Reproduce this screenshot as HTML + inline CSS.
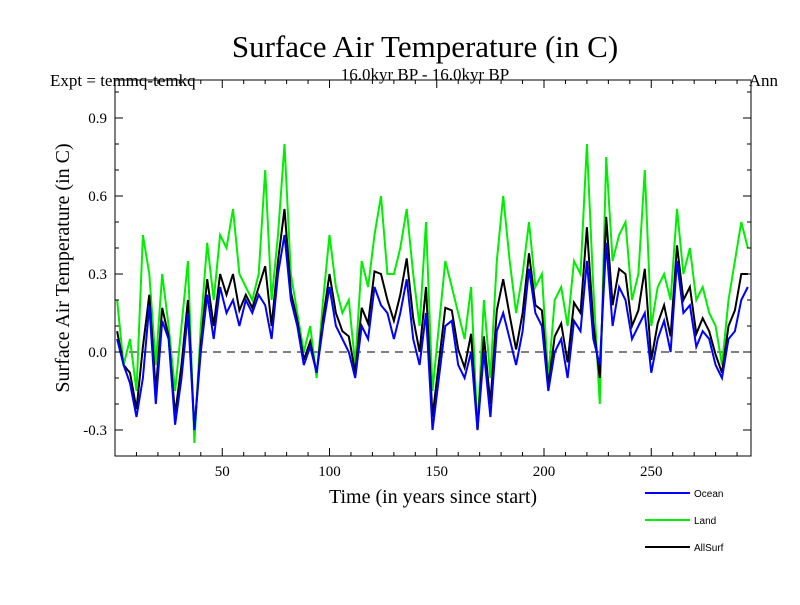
<!DOCTYPE html>
<html><head><meta charset="utf-8"><style>
body{margin:0;background:#fff;}
svg text{font-family:"Liberation Serif",serif;}
</style></head><body>
<svg id="c" width="800" height="600" xmlns="http://www.w3.org/2000/svg">
<text x="425" y="57" font-size="31" text-anchor="middle">Surface Air Temperature (in C)</text>
<text x="425" y="80" font-size="17" text-anchor="middle">16.0kyr BP - 16.0kyr BP</text>
<text x="50" y="86" font-size="17">Expt = temmq-temkq</text>
<text x="778" y="86" font-size="17" text-anchor="end">Ann</text>
<text transform="translate(69,268) rotate(-90)" font-size="20" text-anchor="middle">Surface Air Temperature (in C)</text>
<text x="433" y="503" font-size="20" text-anchor="middle">Time (in years since start)</text>
<g id="plot"></g>
<g id="legend" font-size="10"></g>
</svg>
<script>
const years=[];for(let y=1;y<=295;y+=3)years.push(y);
const ocean=[0.05,-0.05,-0.12,-0.25,-0.1,0.18,-0.2,0.12,0.05,-0.28,-0.1,0.15,-0.3,0.0,0.22,0.05,0.25,0.15,0.2,0.1,0.2,0.15,0.22,0.18,0.05,0.3,0.45,0.2,0.1,-0.05,0.02,-0.08,0.1,0.25,0.1,0.05,0.0,-0.1,0.1,0.05,0.25,0.18,0.15,0.05,0.15,0.28,0.05,-0.05,0.15,-0.3,-0.1,0.1,0.12,-0.05,-0.1,0.0,-0.3,0.0,-0.25,0.08,0.15,0.05,-0.05,0.08,0.32,0.15,0.1,-0.15,0.0,0.05,-0.1,0.12,0.08,0.35,0.05,-0.05,0.42,0.1,0.25,0.2,0.05,0.1,0.15,-0.08,0.05,0.12,0.0,0.35,0.15,0.18,0.02,0.08,0.05,-0.05,-0.1,0.05,0.08,0.2,0.25];
const land=[0.2,-0.05,0.05,-0.15,0.45,0.3,-0.05,0.3,0.1,-0.15,0.1,0.35,-0.35,0.1,0.42,0.2,0.45,0.4,0.55,0.3,0.25,0.2,0.3,0.7,0.2,0.45,0.8,0.3,0.15,0.0,0.1,-0.1,0.2,0.45,0.25,0.15,0.2,-0.05,0.35,0.25,0.45,0.6,0.3,0.3,0.4,0.55,0.3,0.1,0.5,-0.15,0.1,0.35,0.25,0.15,0.05,0.25,-0.3,0.2,-0.1,0.35,0.6,0.35,0.15,0.3,0.5,0.25,0.3,-0.1,0.2,0.25,0.1,0.35,0.3,0.8,0.25,-0.2,0.75,0.35,0.45,0.5,0.2,0.3,0.7,0.1,0.25,0.3,0.2,0.55,0.3,0.4,0.2,0.25,0.15,0.1,-0.05,0.2,0.35,0.5,0.4];
const allsurf=[0.08,-0.05,-0.08,-0.22,0.02,0.22,-0.15,0.17,0.06,-0.24,-0.05,0.2,-0.3,0.03,0.28,0.1,0.3,0.22,0.3,0.16,0.22,0.17,0.25,0.33,0.1,0.35,0.55,0.23,0.12,-0.03,0.04,-0.08,0.13,0.3,0.15,0.08,0.06,-0.08,0.17,0.11,0.31,0.3,0.2,0.12,0.22,0.36,0.13,0.0,0.25,-0.25,-0.04,0.17,0.16,0.01,-0.06,0.07,-0.3,0.06,-0.2,0.16,0.28,0.14,0.01,0.15,0.38,0.18,0.16,-0.13,0.06,0.11,-0.04,0.19,0.15,0.48,0.11,-0.1,0.52,0.18,0.32,0.3,0.1,0.16,0.32,-0.03,0.11,0.18,0.06,0.41,0.2,0.25,0.07,0.13,0.08,-0.01,-0.08,0.1,0.16,0.3,0.3];
const xTicks=[50,100,150,200,250];
const yTicks=[-0.3,0.0,0.3,0.6,0.9];
const yTickLabels=["-0.3","0.0","0.3","0.6","0.9"];
const legendNames=["Ocean","Land","AllSurf"];
const legendColors=["#0000ff","#00ee00","#000000"];

const L=115,R=751,T=80,B=456;
const sx=v=>L+v*(R-L)/296.5;
const sy=v=>352-v*260;
const NS="http://www.w3.org/2000/svg";
const plot=document.getElementById('plot');
function mk(tag,attrs,parent){const e=document.createElementNS(NS,tag);for(const k in attrs)e.setAttribute(k,attrs[k]);parent.appendChild(e);return e;}
// zero line
let z=mk('line',{x1:L,x2:R,y1:sy(0),y2:sy(0),stroke:'#000','stroke-dasharray':'8,6','stroke-width':1},plot);


function series(vals,color,name){
  const d=vals.map((v,i)=>(i?'L':'M')+sx(years[i]).toFixed(1)+','+sy(v).toFixed(1)).join('');
  const p=mk('path',{d:d,fill:'none',stroke:color,'stroke-width':2},plot);
  
  
}
series(land,'#00ee00','land-line');
series(allsurf,'#000000','allsurf-line');
series(ocean,'#0000ff','ocean-line');
// frame
let f=mk('rect',{x:L,y:T,width:R-L,height:B-T,fill:'none',stroke:'#000','stroke-width':1},plot);


// minor ticks
for(let t=10;t<296;t+=10){const len=(t%50===0)?8:4;
  mk('line',{x1:sx(t),x2:sx(t),y1:B,y2:B-len,stroke:'#000'},plot);
  mk('line',{x1:sx(t),x2:sx(t),y1:T,y2:T+len,stroke:'#000'},plot);}
for(let k=-3;k<=10;k++){const v=k/10,len=(k%3===0)?8:4;
  mk('line',{x1:L,x2:L+len,y1:sy(v),y2:sy(v),stroke:'#000'},plot);
  mk('line',{x1:R,x2:R-len,y1:sy(v),y2:sy(v),stroke:'#000'},plot);}
xTicks.forEach(t=>{const e=mk('text',{x:sx(t),y:B+20,'font-size':15,'text-anchor':'middle'},plot);e.textContent=t;
  
  });
yTicks.forEach((t,i)=>{const e=mk('text',{x:L-8,y:sy(t)+5,'font-size':15,'text-anchor':'end'},plot);e.textContent=yTickLabels[i];
  
  });
const lg=document.getElementById('legend');
legendNames.forEach((n,i)=>{const y=493+i*27;
  const l=mk('line',{x1:645,x2:690,y1:y,y2:y,stroke:legendColors[i],'stroke-width':2},lg);
  
  
  const t=mk('text',{x:694,y:y+4,style:'font-family:"Liberation Sans",sans-serif'},lg);t.textContent=n;
  
  });
</script>
</body></html>
